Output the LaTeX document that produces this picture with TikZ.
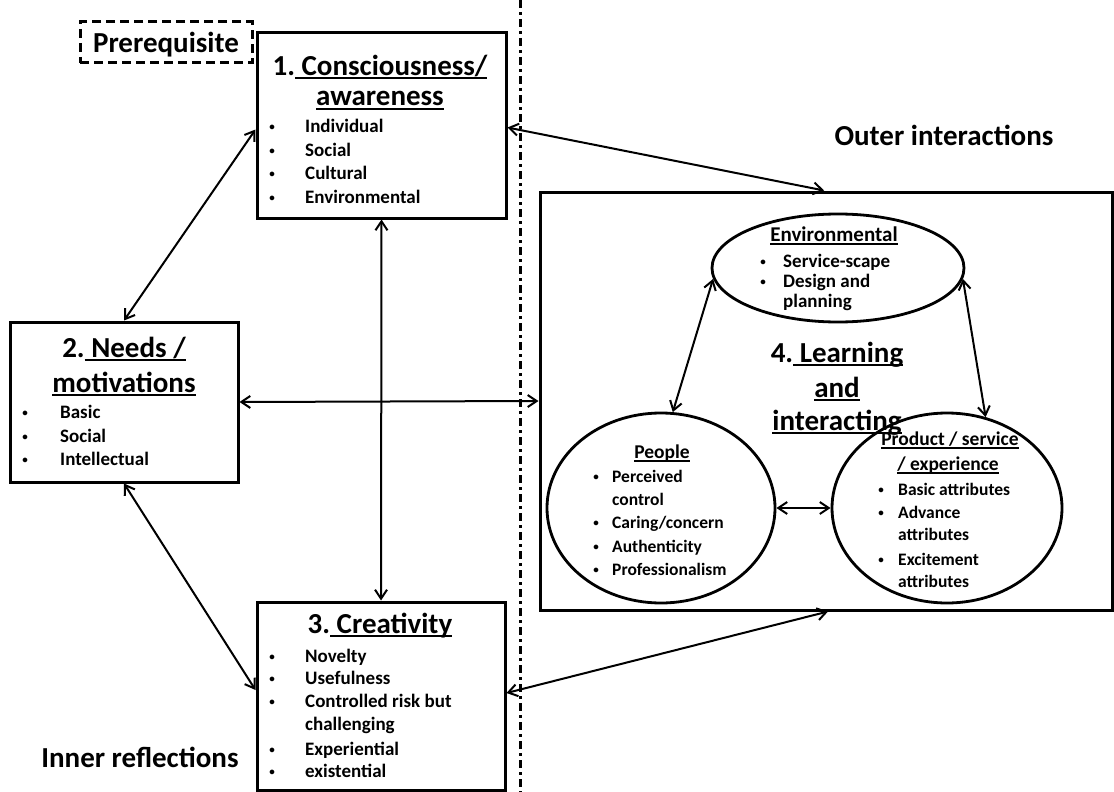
\documentclass[tikz,border=0pt]{standalone}
\usepackage{fontspec}
\setmainfont{Carlito}
\newcommand\myul[1]{\setbox0\hbox{#1}\rlap{\rule[-4pt]{\wd0}{1.6pt}}\box0}
\newcommand\bu{\raisebox{1.5pt}{\fontsize{11}{11}\selectfont\textbullet}}
\usetikzlibrary{arrows.meta,shapes.geometric}
\begin{document}
\begin{tikzpicture}[x=1pt,y=-1pt,
  bigtxt/.style={font=\fontsize{29}{31}\selectfont\bfseries, inner sep=0pt, anchor=base},
  itm/.style={font=\fontsize{19}{21}\selectfont\bfseries, inner sep=0pt, anchor=base west},
  bul/.style={font=\fontsize{19}{21}\selectfont\bfseries, inner sep=0pt, anchor=base},
  eitm/.style={font=\fontsize{17.5}{19}\selectfont\bfseries, inner sep=0pt, anchor=base west},
  ebul/.style={font=\fontsize{17.5}{19}\selectfont\bfseries, inner sep=0pt, anchor=base},
  etitle/.style={font=\fontsize{19.5}{21}\selectfont\bfseries, inner sep=0pt, anchor=base},
  box/.style={draw, line width=3pt, inner sep=0pt},
  oval/.style={draw, ellipse, line width=2.8pt, inner sep=0pt},
  conn/.style={line width=2pt, <->, >={Straight Barb[length=9pt,width=12pt]}}
]
\path[use as bounding box, fill=white] (0,0) rectangle (1114,792);

% dash-dot separator
\coordinate (dtop) at (520,0);
\coordinate (dbot) at (520,792);
\draw[line width=3pt, dash pattern=on 8pt off 4pt on 3pt off 4pt] (dtop) -- (dbot);

% boxes
\node[box, dash pattern=on 9pt off 5pt, minimum width=172pt, minimum height=41pt] (pre) at (166,42.5) {};
\node[bigtxt] (pretxt) at (166,53) {Prerequisite};

\node[box, minimum width=249pt, minimum height=185pt] (b1) at (381.5,125.5) {};
\node[box, minimum width=228pt, minimum height=160pt] (b2) at (124,402) {};
\node[box, minimum width=248pt, minimum height=188pt] (b3) at (381,696) {};
\node[box, minimum width=572pt, minimum height=418pt] (learn) at (826,401) {};

% box 1 text
\node[bigtxt] (b1t1) at (380,75) {1.\myul{ Consciousness/}};
\node[bigtxt] (b1t2) at (380,106) {\myul{awareness}};
\foreach \t/\y [count=\i] in {Individual/132, Social/156, Cultural/179, Environmental/203}{
  \node[bul] (b1b\i) at (272,\y) {\bu};
  \node[itm] (b1i\i) at (305,\y) {\t};
}

% box 2 text
\node[bigtxt] (b2t1) at (124,357) {2.\myul{ Needs /}};
\node[bigtxt] (b2t2) at (124,392) {\myul{motivations}};
\foreach \t/\y [count=\i] in {Basic/418, Social/442, Intellectual/465}{
  \node[bul] (b2b\i) at (25,\y) {\bu};
  \node[itm] (b2i\i) at (60,\y) {\t};
}

% box 3 text
\node[bigtxt] (b3t1) at (380,633) {3.\myul{ Creativity}};
\foreach \t/\y [count=\i] in {Novelty/662, Usefulness/684, Controlled risk but/707, Experiential/755, existential/777}{
  \node[bul] (b3b\i) at (272,\y) {\bu};
  \node[itm] (b3i\i) at (305,\y) {\t};
}
\node[itm] (b3cont) at (305,730) {challenging};

% free labels
\node[bigtxt] (outer) at (944,145) {Outer interactions};
\node[bigtxt] (inner) at (140,767) {Inner reflections};

% ellipses
\node[oval, minimum width=252pt, minimum height=108pt] (env) at (838,268) {};
\node[oval, minimum width=228pt, minimum height=190pt] (ppl) at (661,508) {};
\node[oval, minimum width=230pt, minimum height=190pt] (prod) at (947,508) {};

% learning title
\node[bigtxt] (l1) at (837,362) {4.\myul{ Learning}};
\node[bigtxt] (l2) at (837,397) {\myul{and}};
\node[bigtxt] (l3) at (837,430) {\myul{interacting}};

% environmental text
\node[etitle, font=\fontsize{21}{23}\selectfont\bfseries] (envt) at (834,241) {\myul{Environmental}};
\foreach \t/\y [count=\i] in {Service-scape/267, Design and/287}{
  \node[ebul] (envb\i) at (763,\y) {\bu};
  \node[eitm, font=\fontsize{19}{21}\selectfont\bfseries] (envi\i) at (783,\y) {\t};
}
\node[eitm, font=\fontsize{19}{21}\selectfont\bfseries] (envc) at (783,307) {planning};

% people text
\node[etitle] (pplt) at (662,458) {\myul{People}};
\foreach \t/\y [count=\i] in {Perceived/482, {Caring/concern}/528, Authenticity/552, Professionalism/575}{
  \node[ebul] (pplb\i) at (596,\y) {\bu};
  \node[eitm] (ppli\i) at (612,\y) {\t};
}
\node[eitm] (pplc) at (612,505) {control};

% product text
\node[etitle] (prt1) at (950,445) {\myul{Product / service}};
\node[etitle] (prt2) at (948,470) {\myul{/ experience}};
\foreach \t/\y [count=\i] in {Basic attributes/495, Advance/518, Excitement/565}{
  \node[ebul] (prb\i) at (881,\y) {\bu};
  \node[eitm] (pri\i) at (898,\y) {\t};
}
\node[eitm] (prc1) at (898,540) {attributes};
\node[eitm] (prc2) at (898,587) {attributes};

% connectors
\draw[conn] ([yshift=-4pt]b1.west) -- (b2.north);
\draw[conn] (b2.south) -- ([yshift=6pt]b3.west);
\draw[conn] (b1.south) -- (b3.north);
\draw[conn] (b2.east) -- (learn.west);
\draw[conn] ([yshift=-2pt]b1.east) -- ([xshift=-2pt]learn.north);
\draw[conn] ([yshift=3pt]b3.east) -- ([xshift=2pt]learn.south);
\draw[conn] (env.185) -- (ppl.83);
\draw[conn] (env.-5) -- (prod.67);
\draw[conn] (ppl.east) -- (prod.west);
\end{tikzpicture}
\end{document}
